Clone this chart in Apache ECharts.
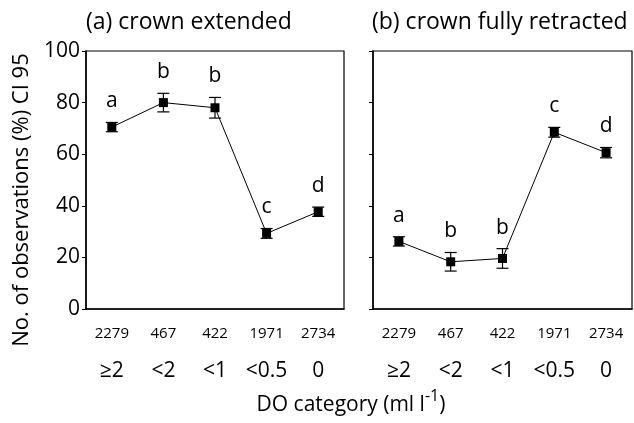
<!DOCTYPE html>
<html>
<head>
<meta charset="utf-8">
<script src="https://cdn.jsdelivr.net/npm/echarts@6/dist/echarts.min.js"></script>
<style>
  html, body { margin: 0; padding: 0; background: #fff; }
  #chart { width: 634px; height: 423px; }
</style>
</head>
<body>
<div id="chart"></div>
<script>
// sample sizes and DO categories (shared by both panels)
const counts = ['2279', '467', '422', '1971', '2734']
const doCats = ['≥2', '<2', '<1', '<0.5', '0']

// (a) crown extended
const extMean = [70.5, 80, 78, 29.3, 37.7]
const extCI = [1.8, 3.6, 4.0, 1.9, 1.8]
const extLetters = ['a', 'b', 'b', 'c', 'd']

// (b) crown fully retracted
const retMean = [26.2, 18.3, 19.6, 68.5, 60.6]
const retCI = [1.8, 3.6, 3.8, 1.9, 2.0]
const retLetters = ['a', 'b', 'b', 'c', 'd']

const yTicks = [0, 20, 40, 60, 80, 100]

const FONT = '"Open Sans", sans-serif'

function xAxisFor(idx) {
  return {
    type: 'category',
    gridIndex: idx,
    data: counts.map((c, i) => c + '|' + doCats[i]),
    axisLine: { lineStyle: { color: '#000', width: 1.5 } },
    axisTick: { alignWithLabel: true, length: 4, lineStyle: { color: '#000' } },
    axisLabel: {
      interval: 0,
      margin: 12,
      color: '#000',
      fontFamily: FONT,
      formatter: v => {
        const p = v.split('|')
        return '{n|' + p[0] + '}\n{d|' + p[1] + '}'
      },
      rich: {
        n: { fontSize: 15, lineHeight: 26, fontFamily: FONT, color: '#000' },
        d: { fontSize: 21, lineHeight: 48, fontFamily: FONT, color: '#000' }
      }
    },
    splitLine: { show: false }
  }
}

function yAxisFor(idx, showLabels) {
  return {
    type: 'value',
    gridIndex: idx,
    min: 0,
    max: 100,
    interval: 20,
    axisLine: { show: true, lineStyle: { color: '#000', width: 1.5 } },
    axisTick: { show: true, length: 4, lineStyle: { color: '#000' } },
    axisLabel: {
      show: showLabels,
      margin: 6,
      fontSize: 21,
      color: '#000',
      fontFamily: FONT,
      formatter: v => (yTicks.indexOf(v) >= 0 ? String(v) : '')
    },
    splitLine: { show: false }
  }
}

function errorSeries(idx, mean, ci, letters) {
  return {
    type: 'custom',
    xAxisIndex: idx,
    yAxisIndex: idx,
    z: 3,
    data: mean.map((m, i) => [i, m - ci[i], m + ci[i]]),
    renderItem: (params, api) => {
      const lo = api.coord([api.value(0), api.value(1)])
      const hi = api.coord([api.value(0), api.value(2)])
      const x = lo[0]
      const cap = 6
      const st = { stroke: '#000', lineWidth: 1.2 }
      return {
        type: 'group',
        children: [
          { type: 'line', shape: { x1: x, y1: lo[1], x2: x, y2: hi[1] }, style: st },
          { type: 'line', shape: { x1: x - cap, y1: lo[1], x2: x + cap, y2: lo[1] }, style: st },
          { type: 'line', shape: { x1: x - cap, y1: hi[1], x2: x + cap, y2: hi[1] }, style: st },
          {
            type: 'text',
            style: {
              x: x,
              y: hi[1] - 21,
              text: letters[params.dataIndex],
              fill: '#000',
              font: '21px ' + FONT,
              align: 'center',
              verticalAlign: 'middle'
            }
          }
        ]
      }
    }
  }
}

function meanSeries(idx, mean) {
  return {
    type: 'line',
    xAxisIndex: idx,
    yAxisIndex: idx,
    data: mean,
    symbol: 'rect',
    symbolSize: 9,
    z: 4,
    itemStyle: { color: '#000' },
    lineStyle: { color: '#000', width: 1 },
    emphasis: { disabled: true }
  }
}

const chart = echarts.init(document.getElementById('chart'))
chart.setOption({
  animation: false,
  backgroundColor: '#fff',
  grid: [
    { left: 86, top: 51, width: 258, height: 258, show: true, borderColor: '#000', borderWidth: 1.2, backgroundColor: 'transparent' },
    { left: 373, top: 51, width: 259, height: 258, show: true, borderColor: '#000', borderWidth: 1.2, backgroundColor: 'transparent' }
  ],
  xAxis: [xAxisFor(0), xAxisFor(1)],
  yAxis: [yAxisFor(0, true), yAxisFor(1, false)],
  series: [
    meanSeries(0, extMean),
    errorSeries(0, extMean, extCI, extLetters),
    meanSeries(1, retMean),
    errorSeries(1, retMean, retCI, retLetters)
  ],
  graphic: [
    {
      type: 'text', left: 86, top: 11,
      style: { text: '(a) crown extended', font: '23px ' + FONT, fill: '#000' }
    },
    {
      type: 'text', left: 372, top: 11,
      style: { text: '(b) crown fully retracted', font: '23px ' + FONT, fill: '#000' }
    },
    {
      type: 'text', x: 22, y: 200, rotation: Math.PI / 2,
      style: {
        text: 'No. of observations (%) CI 95', font: '22px ' + FONT, fill: '#000',
        align: 'center', verticalAlign: 'middle'
      }
    },
    {
      type: 'text', x: 351, y: 402,
      style: {
        text: '{b|DO category (ml l}{s|-1}{b|)}',
        fill: '#000',
        align: 'center', verticalAlign: 'middle',
        rich: {
          b: { fontSize: 21, fontFamily: FONT, lineHeight: 28, verticalAlign: 'bottom', fill: '#000' },
          s: { fontSize: 16, fontFamily: FONT, lineHeight: 28, verticalAlign: 'top', fill: '#000' }
        }
      }
    }
  ]
})
</script>
</body>
</html>
